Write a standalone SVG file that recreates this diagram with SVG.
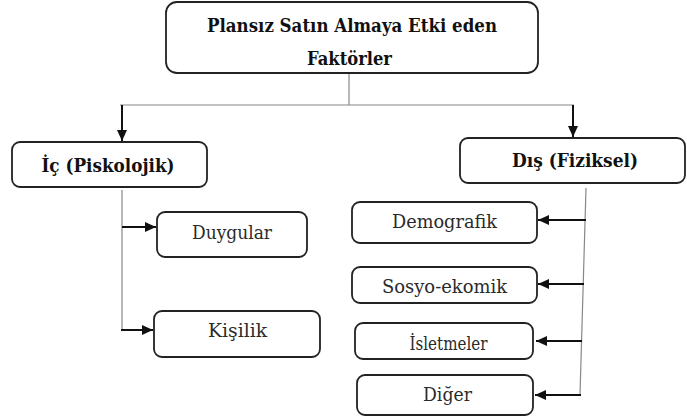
<svg xmlns="http://www.w3.org/2000/svg" width="687" height="418" viewBox="0 0 687 418">
  <defs>
    <marker id="arrow" markerUnits="userSpaceOnUse" markerWidth="12" markerHeight="10" refX="11" refY="5" orient="auto">
      <path d="M0,0 L11,5 L0,10 Z" fill="#111"/>
    </marker>
    <style>
      .box { fill: #fff; stroke: #222; stroke-width: 1.8; }
      .lbl { font-family: "DejaVu Serif", "Liberation Serif", serif; font-size: 18px; fill: #2a2a2a; text-anchor: middle; }
      .bold { font-weight: bold; fill: #111; }
      .thin { stroke: #888; stroke-width: 1.2; fill: none; }
      .arr { stroke: #111; stroke-width: 2; fill: none; marker-end: url(#arrow); }
    </style>
  </defs>
  <rect width="687" height="418" fill="#fff"/>

  <g id="connectors">
    <line class="thin" x1="349" y1="73" x2="349" y2="105"/>
    <line class="thin" x1="120" y1="105" x2="574" y2="105"/>
    <line class="arr" x1="122" y1="105" x2="122" y2="141"/>
    <line class="arr" x1="573" y1="105" x2="573" y2="137"/>
    <line class="thin" x1="122" y1="190" x2="122" y2="330"/>
    <line class="arr" x1="122" y1="227" x2="156" y2="227"/>
    <line class="arr" x1="121" y1="330" x2="153" y2="330"/>
    <line class="thin" x1="586" y1="188" x2="580" y2="395"/>
    <line class="arr" x1="586" y1="220" x2="538" y2="220"/>
    <line class="arr" x1="584" y1="284" x2="538" y2="284"/>
    <line class="arr" x1="582" y1="341" x2="536" y2="341"/>
    <line class="arr" x1="581" y1="395" x2="535" y2="395"/>
  </g>

  <g id="root">
    <rect class="box" x="166" y="2" width="372" height="71" rx="11"/>
    <text class="lbl bold" x="352" y="32" textLength="290" lengthAdjust="spacingAndGlyphs">Plansız Satın Almaya Etki eden</text>
    <text class="lbl bold" x="349.5" y="65" textLength="85" lengthAdjust="spacingAndGlyphs">Faktörler</text>
  </g>

  <g id="ic">
    <rect class="box" x="12" y="142" width="195" height="45" rx="8"/>
    <text class="lbl bold" x="108" y="172" textLength="133" lengthAdjust="spacingAndGlyphs">İç (Piskolojik)</text>
  </g>

  <g id="dis">
    <rect class="box" x="460" y="138" width="225" height="45" rx="8"/>
    <text class="lbl bold" x="575" y="167" textLength="126" lengthAdjust="spacingAndGlyphs">Dış (Fiziksel)</text>
  </g>

  <g id="duygular">
    <rect class="box" x="157" y="212" width="150" height="45" rx="8"/>
    <text class="lbl" x="232" y="239" textLength="80" lengthAdjust="spacingAndGlyphs">Duygular</text>
  </g>

  <g id="kisilik">
    <rect class="box" x="154" y="311" width="166" height="46" rx="8"/>
    <text class="lbl" x="237.5" y="337" textLength="59" lengthAdjust="spacingAndGlyphs">Kişilik</text>
  </g>

  <g id="demografik">
    <rect class="box" x="352" y="202" width="185" height="41" rx="8"/>
    <text class="lbl" x="444.5" y="228" textLength="105" lengthAdjust="spacingAndGlyphs">Demografik</text>
  </g>

  <g id="sosyo-ekomik">
    <rect class="box" x="352" y="267" width="185" height="36" rx="8"/>
    <text class="lbl" x="444.5" y="293" textLength="125" lengthAdjust="spacingAndGlyphs">Sosyo-ekomik</text>
  </g>

  <g id="isletmeler">
    <rect class="box" x="355" y="323" width="178" height="36" rx="8"/>
    <text class="lbl" x="448.5" y="350" textLength="78" lengthAdjust="spacingAndGlyphs">İsletmeler</text>
  </g>

  <g id="diger">
    <rect class="box" x="357" y="375" width="176" height="40" rx="8"/>
    <text class="lbl" x="447.5" y="401" textLength="49" lengthAdjust="spacingAndGlyphs">Diğer</text>
  </g>
</svg>
